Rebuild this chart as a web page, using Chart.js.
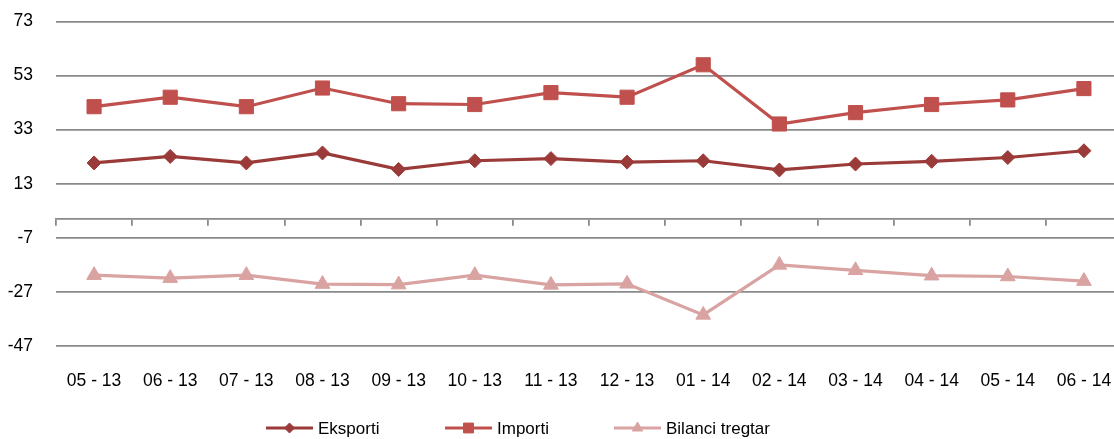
<!DOCTYPE html>
<html>
<head>
<meta charset="utf-8">
<script src="https://cdn.jsdelivr.net/npm/chart.js@4.4.1/dist/chart.umd.min.js"></script>
<style>
  html, body { margin: 0; padding: 0; background: #fff; overflow: hidden; }
  #wrap { width: 1114px; height: 439px; overflow: hidden; }
</style>
</head>
<body>
<div id="wrap"><canvas id="chart" width="1133" height="439"></canvas></div>
<script>
const months = ['05 - 13', '06 - 13', '07 - 13', '08 - 13', '09 - 13', '10 - 13', '11 - 13',
  '12 - 13', '01 - 14', '02 - 14', '03 - 14', '04 - 14', '05 - 14', '06 - 14'];
const eksporti = [20.7, 23.1, 20.7, 24.4, 18.3, 21.5, 22.3, 21.0, 21.5, 18.1, 20.3, 21.3, 22.7, 25.2];
const importi = [41.5, 45.0, 41.5, 48.4, 42.6, 42.3, 46.7, 45.0, 57.0, 35.1, 39.3, 42.3, 44.0, 48.2];
const bilanci = [-20.8, -21.9, -20.8, -24.1, -24.3, -20.8, -24.4, -24.0, -35.5, -17.0, -19.0, -21.0, -21.3, -23.0];
const yTicks = [-47, -27, -7, 13, 33, 53, 73];

const FONT = '"Liberation Sans", Arial, sans-serif';
const GRID = '#8a8a8a';

// legenda: vija + shenja ne mes, si ne Excel
const legendX = [266, 445, 614];
const legendRadius = [5, 7, 6];
const lineLegend = {
  id: 'lineLegend',
  afterDraw(chart) {
    const ctx = chart.ctx;
    const y = 428;
    chart.data.datasets.forEach((ds, i) => {
      const x = legendX[i];
      ctx.save();
      ctx.strokeStyle = ds.borderColor;
      ctx.lineWidth = 3;
      ctx.beginPath();
      ctx.moveTo(x, y);
      ctx.lineTo(x + 47, y);
      ctx.stroke();
      ctx.fillStyle = ds.borderColor;
      ctx.lineWidth = 1;
      Chart.helpers.drawPoint(ctx, { pointStyle: ds.pointStyle, radius: legendRadius[i], borderWidth: 1 }, x + 23.5, y);
      ctx.fillStyle = '#000';
      ctx.font = '17px ' + FONT;
      ctx.textBaseline = 'middle';
      ctx.textAlign = 'left';
      ctx.fillText(ds.label, x + 52, y + 1);
      ctx.restore();
    });
  }
};

new Chart(document.getElementById('chart'), {
  type: 'line',
  data: {
    labels: months,
    datasets: [
      {
        label: 'Eksporti', data: eksporti,
        borderColor: '#9b3b39', backgroundColor: '#9b3b39',
        borderWidth: 3.2, pointStyle: 'rectRot', pointRadius: 7, pointBorderWidth: 1,
        tension: 0, xAxisID: 'x'
      },
      {
        label: 'Importi', data: importi,
        borderColor: '#c0504d', backgroundColor: '#c0504d',
        borderWidth: 3.2, pointStyle: 'rect', pointRadius: 10, pointBorderWidth: 1,
        tension: 0, xAxisID: 'x'
      },
      {
        label: 'Bilanci tregtar', data: bilanci,
        borderColor: '#d9a3a2', backgroundColor: '#d9a3a2',
        borderWidth: 3.2, pointStyle: 'triangle', pointRadius: 8.5, pointBorderWidth: 1,
        tension: 0, xAxisID: 'x'
      }
    ]
  },
  options: {
    responsive: false,
    animation: false,
    layout: { padding: { top: 21.5, left: 0, right: 0, bottom: 0 } },
    plugins: {
      legend: { display: false },
      tooltip: { enabled: false }
    },
    scales: {
      y: {
        min: -47, max: 73,
        afterBuildTicks: scale => { scale.ticks = yTicks.map(v => ({ value: v })); },
        afterFit: scale => { scale.width = 56; scale.paddingTop = 0; scale.paddingBottom = 0; },
        grid: { color: GRID, lineWidth: 1.8, drawTicks: false },
        border: { display: false },
        ticks: { color: '#000', padding: 23, font: { family: FONT, size: 17.5 } }
      },
      x: {
        type: 'category',
        position: { y: 0 },
        offset: true,
        grid: { offset: true, drawOnChartArea: false, drawTicks: true, tickLength: 6, color: GRID, lineWidth: 1.8 },
        border: { display: true, color: GRID, width: 1.8 },
        ticks: { display: false }
      },
      x2: {
        type: 'category',
        axis: 'x',
        position: 'bottom',
        offset: true,
        afterFit: scale => { scale.height = 93; scale.paddingLeft = 0; scale.paddingRight = 0; },
        grid: { display: false, drawTicks: false },
        border: { display: false },
        ticks: { color: '#000', padding: 25, maxRotation: 0, autoSkip: false, font: { family: FONT, size: 17.5 } }
      }
    }
  },
  plugins: [lineLegend]
});
</script>
</body>
</html>
